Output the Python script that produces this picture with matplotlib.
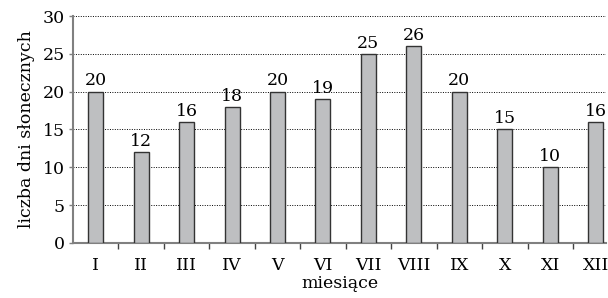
import numpy as np
import matplotlib.pyplot as plt

months = ['I', 'II', 'III', 'IV', 'V', 'VI', 'VII', 'VIII', 'IX', 'X', 'XI', 'XII']
sunny_days = [20, 12, 16, 18, 20, 19, 25, 26, 20, 15, 10, 16]
y_ticks = [0, 5, 10, 15, 20, 25, 30]

plt.rcParams['font.family'] = ['DejaVu Serif']
plt.rcParams['font.size'] = 12.5

fig = plt.figure(figsize=(6.08, 2.98), dpi=100)
ax = fig.add_axes([0.12, 0.185, 0.877, 0.761])

x = np.arange(len(months))
ax.bar(x, sunny_days, width=0.33, color='#bebfc1', edgecolor='#333333',
       linewidth=1.0, zorder=3)
for xi, v in zip(x, sunny_days):
    ax.text(xi, v + 0.3, str(v), ha='center', va='bottom')

ax.set_xlim(-0.5, 11.23)
ax.set_ylim(0, 30)
ax.set_yticks(y_ticks)
ax.yaxis.grid(True, linestyle=(0, (1, 1.5)), color='black', linewidth=0.7)
ax.set_axisbelow(True)

ax.set_xticks(x)
ax.set_xticklabels(months)
ax.tick_params(axis='x', length=0, pad=10)
ax.set_xticks(np.arange(0.5, 11, 1), minor=True)
ax.tick_params(axis='x', which='minor', length=4, width=1, color='#444444')
ax.tick_params(axis='y', length=3, width=1, color='#808080', pad=3)

for s in ['top', 'right']:
    ax.spines[s].set_visible(False)
for s in ['left', 'bottom']:
    ax.spines[s].set_color('#808080')
    ax.spines[s].set_linewidth(1.5)

ax.set_ylabel('liczba dni słonecznych', labelpad=5)
ax.set_xlabel('miesiące', labelpad=1)

plt.savefig('out.png', dpi=100)
